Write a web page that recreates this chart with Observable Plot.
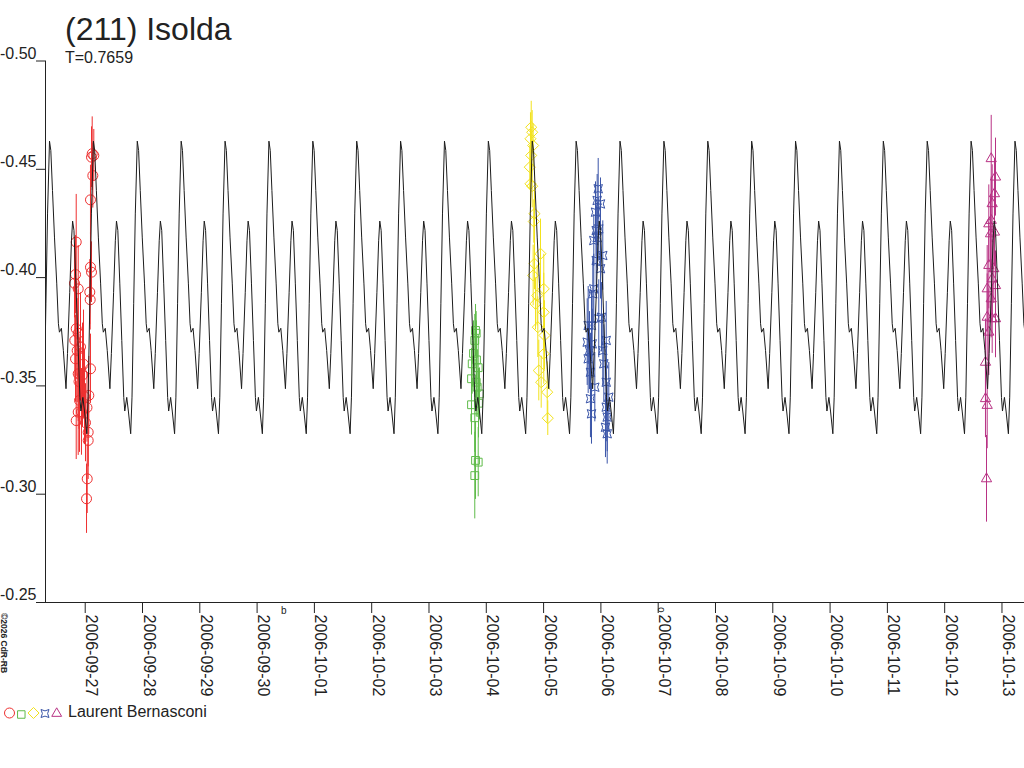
<!DOCTYPE html>
<html><head><meta charset="utf-8">
<script src="https://cdn.jsdelivr.net/npm/d3@7"></script>
<script src="https://cdn.jsdelivr.net/npm/@observablehq/plot@0.6"></script>
<style>
body{margin:0;background:#fff;}
#wrap{position:relative;width:1024px;height:768px;overflow:hidden;background:#fff}
#wrap svg{position:absolute;left:0;top:0}
</style></head><body><div id="wrap"></div>
<script>
// ---------- texts ----------
const title = "(211) Isolda";
const subtitle = "T=0.7659";
const observer = "Laurent Bernasconi";
const copyright = "©2026 CdR-RB";

// ---------- time frame (days since 2006-09-27 00:00 UT) ----------
const epochLabel = "2006-09-27";
const xStart = -0.693, xEnd = 16.393;
const period = 0.7659;
const peakT0 = -0.623;

// ---------- model light curve: one period ----------
const shapePhase = [0, 0.03, 0.068, 0.113, 0.165, 0.203, 0.226, 0.271, 0.316, 0.376, 0.41, 0.46, 0.50, 0.526, 0.557, 0.602, 0.647, 0.692, 0.715, 0.760, 0.797, 0.85, 0.88, 0.918, 0.955];
const shapeMag   = [-0.463, -0.4587, -0.4402, -0.4187, -0.3971, -0.3787, -0.3748, -0.3766, -0.3663, -0.3487, -0.365, -0.393, -0.417, -0.4261, -0.4218, -0.3971, -0.3709, -0.3447, -0.3384, -0.3447, -0.3384, -0.3279, -0.3448, -0.3879, -0.4294];

// ---------- axes ----------
const yTicks = [-0.50, -0.45, -0.40, -0.35, -0.30, -0.25];
const xTickLabels = ["2006-09-27","2006-09-28","2006-09-29","2006-09-30","2006-10-01","2006-10-02","2006-10-03","2006-10-04","2006-10-05","2006-10-06","2006-10-07","2006-10-08","2006-10-09","2006-10-10","2006-10-11","2006-10-12","2006-10-13"];

// ---------- observations (t = days since epoch, mag, err) ----------
const redT   = [0.122, 0.150, 0.110, 0.133, 0.092, -0.157, 0.092, 0.110, -0.169, -0.187, -0.122, 0.080, 0.087, -0.157, -0.122, -0.182, -0.140, -0.169, 0.092, -0.122, 0.063, -0.099, -0.122, -0.157, 0.052, 0.052, 0.035, 0.023, -0.082, -0.047, -0.012, -0.030, -0.065, 0.005, -0.108, 0.031];
const redMag = [-0.4572, -0.4564, -0.4556, -0.4471, -0.4359, -0.4164, -0.4048, -0.4025, -0.4014, -0.3974, -0.3948, -0.3933, -0.3898, -0.3764, -0.3743, -0.3710, -0.3663, -0.3625, -0.3579, -0.3556, -0.3456, -0.3433, -0.3379, -0.3340, -0.3286, -0.3248, -0.3071, -0.2979, -0.3680, -0.3550, -0.3450, -0.3600, -0.3380, -0.3330, -0.3520, -0.3400];
const redErr = [0.017, 0.012, 0.014, 0.015, 0.016, 0.022, 0.016, 0.014, 0.018, 0.016, 0.020, 0.015, 0.014, 0.022, 0.020, 0.018, 0.024, 0.020, 0.016, 0.022, 0.018, 0.024, 0.020, 0.018, 0.016, 0.018, 0.016, 0.016, 0.025, 0.024, 0.022, 0.025, 0.020, 0.018, 0.022, 0.016];

const greenT   = [6.812, 6.824, 6.799, 6.754, 6.859, 6.742, 6.824, 6.841, 6.881, 6.742, 6.799, 6.812, 6.859, 6.799, 6.777, 6.829, 6.864];
const greenMag = [-0.3756, -0.3743, -0.3710, -0.3602, -0.3584, -0.3533, -0.3517, -0.3494, -0.3463, -0.3413, -0.3353, -0.3156, -0.3148, -0.3086, -0.3650, -0.3620, -0.3420];
const greenErr = [0.012, 0.010, 0.012, 0.014, 0.015, 0.014, 0.016, 0.014, 0.012, 0.014, 0.016, 0.018, 0.016, 0.020, 0.015, 0.018, 0.016];

const yellowT   = [7.784, 7.801, 7.771, 7.818, 7.784, 7.759, 7.771, 7.801, 7.841, 7.829, 7.946, 7.841, 7.818, 8.003, 7.888, 7.859, 8.003, 7.899, 8.016, 8.003, 7.916, 7.958, 8.063, 8.073];
const yellowMag = [-0.4694, -0.4671, -0.4641, -0.4610, -0.4564, -0.4510, -0.4433, -0.4422, -0.4295, -0.4259, -0.4110, -0.4064, -0.4010, -0.3948, -0.3917, -0.3879, -0.3840, -0.3771, -0.3733, -0.3648, -0.3571, -0.3517, -0.3471, -0.3351];
const yellowErr = [0.012, 0.010, 0.012, 0.010, 0.012, 0.010, 0.012, 0.010, 0.012, 0.010, 0.016, 0.012, 0.014, 0.016, 0.014, 0.012, 0.018, 0.014, 0.016, 0.014, 0.014, 0.012, 0.014, 0.008];

const blueT   = [8.953, 8.935, 8.993, 8.906, 8.963, 8.918, 8.935, 8.876, 9.033, 8.918, 8.993, 8.876, 8.859, 8.963, 9.010, 8.778, 8.836, 9.093, 8.761, 8.848, 8.801, 8.778, 9.033, 9.051, 8.818, 9.093, 8.894, 9.138, 8.818, 9.093, 8.836, 9.110, 9.080, 9.110];
const blueMag = [-0.4410, -0.4356, -0.4340, -0.4302, -0.4225, -0.4217, -0.4184, -0.4171, -0.4102, -0.4079, -0.4041, -0.3948, -0.3925, -0.3810, -0.3817, -0.3779, -0.3779, -0.3710, -0.3702, -0.3694, -0.3663, -0.3625, -0.3663, -0.3602, -0.3563, -0.3517, -0.3494, -0.3448, -0.3441, -0.3402, -0.3371, -0.3356, -0.3309, -0.3279];
const blueErr = [0.014, 0.012, 0.012, 0.014, 0.014, 0.012, 0.014, 0.012, 0.016, 0.014, 0.014, 0.016, 0.016, 0.018, 0.016, 0.018, 0.016, 0.018, 0.020, 0.016, 0.018, 0.016, 0.016, 0.018, 0.018, 0.018, 0.016, 0.016, 0.018, 0.016, 0.014, 0.016, 0.014, 0.014];

const magentaT   = [15.812, 15.887, 15.869, 15.829, 15.812, 15.770, 15.869, 15.800, 15.770, 15.857, 15.829, 15.742, 15.887, 15.812, 15.742, 15.829, 15.887, 15.770, 15.712, 15.712, 15.742, 15.730];
const magentaMag = [-0.4549, -0.4464, -0.4387, -0.4341, -0.4264, -0.4248, -0.4210, -0.4202, -0.4056, -0.4041, -0.3994, -0.3948, -0.3963, -0.3902, -0.3817, -0.3810, -0.3810, -0.3748, -0.3609, -0.3441, -0.3410, -0.3071];
const magentaErr = [0.020, 0.018, 0.016, 0.018, 0.020, 0.018, 0.016, 0.018, 0.020, 0.016, 0.018, 0.020, 0.016, 0.018, 0.020, 0.016, 0.018, 0.020, 0.020, 0.018, 0.020, 0.020];

// ---------- build ----------
const epochMs = Date.parse(epochLabel + "T00:00:00Z");
const toDate = t => new Date(epochMs + t * 864e5);
const zip = (T, M, E) => T.map((t, i) => ({date: toDate(t), mag: M[i], err: E[i]}));

const quadStar = {
  draw(ctx, size) {
    const r = Math.sqrt(size / Math.PI) * 0.85, k = r * 0.3;
    ctx.moveTo(-r, -r);
    ctx.quadraticCurveTo(0, -k, r, -r);
    ctx.quadraticCurveTo(k, 0, r, r);
    ctx.quadraticCurveTo(0, k, -r, r);
    ctx.quadraticCurveTo(-k, 0, -r, -r);
    ctx.closePath();
  }
};

const series = [
  {data: zip(redT, redMag, redErr), color: "#ee3030", symbol: "circle", r: 5},
  {data: zip(greenT, greenMag, greenErr), color: "#5fbb4a", symbol: "square", r: 4.4},
  {data: zip(yellowT, yellowMag, yellowErr), color: "#f2e21c", symbol: "diamond2", r: 5},
  {data: zip(blueT, blueMag, blueErr), color: "#3a55a8", symbol: quadStar, r: 5},
  {data: zip(magentaT, magentaMag, magentaErr), color: "#b83284", symbol: "triangle", r: 3.8}
];

const model = [];
const kMin = Math.floor((xStart - peakT0) / period) - 1;
const kMax = Math.ceil((xEnd - peakT0) / period) + 1;
for (let k = kMin; k <= kMax; k++)
  for (let i = 0; i < shapePhase.length; i++)
    model.push({date: toDate(peakT0 + (k + shapePhase[i]) * period), mag: shapeMag[i]});

const tickDates = xTickLabels.map(s => new Date(Date.parse(s + "T00:00:00Z")));
const pxPerDay = 57.3, pxPerMag = 2166;
const yTickLeft = toDate(xStart - 9 / pxPerDay);
const font = "'Liberation Sans', Arial, sans-serif";

const chart = Plot.plot({
  width: 1024, height: 768,
  marginLeft: 45, marginRight: 0, marginTop: 60.5, marginBottom: 166,
  style: {fontFamily: font, fontSize: "16px", color: "#222", background: "transparent"},
  x: {type: "utc", domain: [toDate(xStart), toDate(xEnd)], axis: null},
  y: {domain: [-0.25, -0.50], axis: null},
  marks: [
    ...series.map(s => Plot.ruleX(s.data, {x: "date", y1: d => d.mag - d.err, y2: d => d.mag + d.err, stroke: s.color, strokeWidth: 1})),
    ...series.map(s => Plot.dot(s.data, {x: "date", y: "mag", symbol: s.symbol, r: s.r, stroke: s.color, fill: "none", strokeWidth: 1})),
    Plot.line(model, {x: "date", y: "mag", stroke: "#1c1c1c", strokeWidth: 1, clip: true}),
    // axis lines
    Plot.ruleX([toDate(xStart)], {stroke: "#222", strokeWidth: 1}),
    Plot.ruleY([-0.25], {stroke: "#222", strokeWidth: 1}),
    // y ticks + labels
    Plot.ruleY(yTicks, {x1: yTickLeft, x2: toDate(xStart), stroke: "#222", strokeWidth: 1}),
    Plot.text(yTicks, {x: yTickLeft, y: d => d, text: d => d.toFixed(2), textAnchor: "end", lineAnchor: "bottom", dy: -2.5, fontSize: 16, fill: "#222"}),
    // x ticks + labels
    Plot.ruleX(tickDates, {y1: -0.25, y2: -0.25 + 11 / pxPerMag, stroke: "#222", strokeWidth: 1}),
    Plot.text(tickDates, {x: d => d, y: -0.25 + 12 / pxPerMag, text: (d, i) => xTickLabels[i], rotate: 90, textAnchor: "start", lineAnchor: "bottom", dx: 1, fontSize: 16, fill: "#222"})
  ]
});
const wrap = document.getElementById("wrap");
wrap.appendChild(chart);

// ---------- title, subtitle, legend, credit (overlay) ----------
const ns = "http://www.w3.org/2000/svg";
const ov = d3.select(wrap).append("svg").attr("width", 1024).attr("height", 768)
  .style("font-family", font).style("pointer-events", "none");
ov.append("text").attr("x", 65).attr("y", 40).attr("font-size", 32).attr("fill", "#222").text(title);
ov.append("text").attr("x", 65).attr("y", 63).attr("font-size", 16).attr("fill", "#222").text(subtitle);
ov.append("text").attr("transform", "translate(0.5,613) rotate(90)").attr("font-size", 8.5).attr("font-weight", "bold").attr("fill", "#222").text(copyright);
ov.append("text").attr("transform", "translate(658,607) rotate(90)").attr("font-size", 10).attr("fill", "#222").text("o");
ov.append("text").attr("x", 281).attr("y", 614).attr("font-size", 10).attr("fill", "#222").text("b");

const legendSyms = [
  {x: 9.5, y: 713, sym: d3.symbolCircle, size: Math.PI * 25, color: series[0].color},
  {x: 21.3, y: 714.5, sym: d3.symbolSquare, size: 56, color: series[1].color},
  {x: 33.5, y: 713, sym: d3.symbolDiamond2, size: 78, color: series[2].color},
  {x: 45, y: 713.5, sym: quadStar, size: 70, color: series[3].color},
  {x: 56.7, y: 713.5, sym: d3.symbolTriangle, size: 42, color: series[4].color}
];
legendSyms.forEach(s => {
  ov.append("path").attr("transform", `translate(${s.x},${s.y})`)
    .attr("d", d3.symbol(s.sym, s.size)()).attr("fill", "none").attr("stroke", s.color).attr("stroke-width", 1);
});
ov.append("text").attr("x", 68).attr("y", 717).attr("font-size", 16).attr("fill", "#222").text(observer);
</script></body></html>
